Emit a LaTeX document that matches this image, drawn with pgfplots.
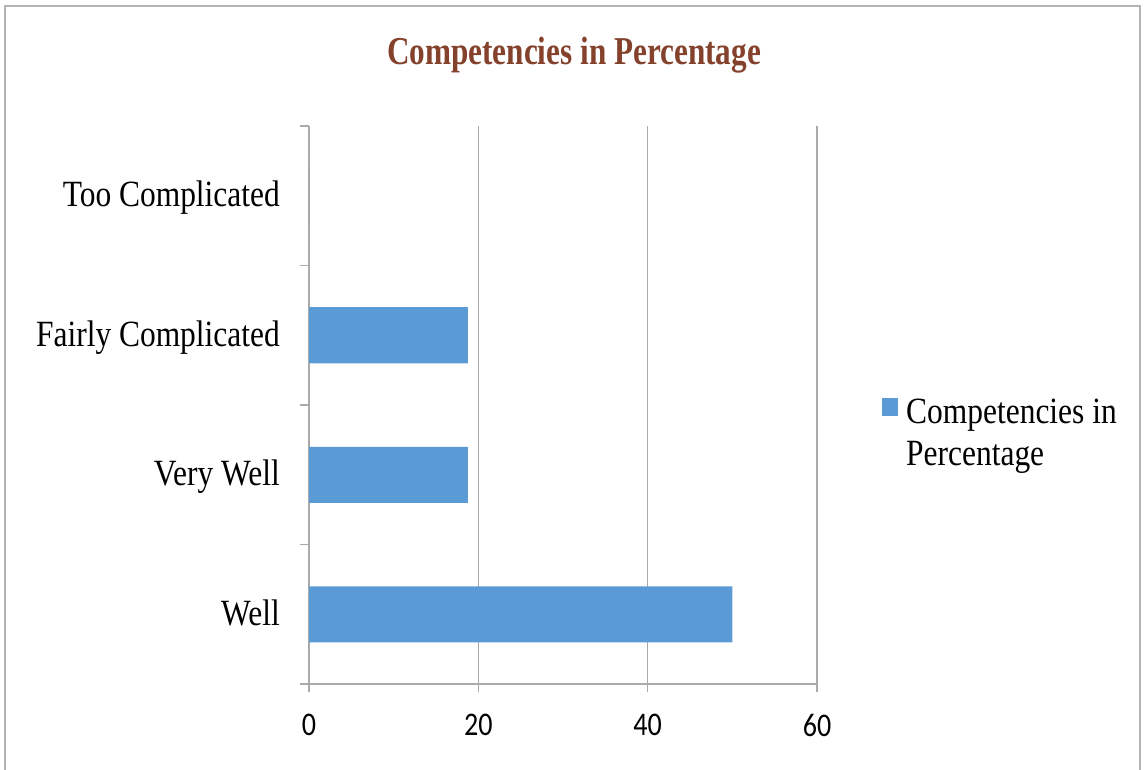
\documentclass[border=0pt]{standalone}
\usepackage{pgfplots}
\pgfplotsset{compat=1.18}
\usepackage{fontspec}
\setmainfont{Liberation Serif}
\newfontfamily\catfont[FakeStretch=0.85]{Liberation Serif}
\newfontfamily\headfont[FakeStretch=0.79]{Liberation Serif}
\newfontfamily\numfont[FakeStretch=0.85]{Carlito}
\definecolor{barblue}{RGB}{91,155,213}
\definecolor{headbrown}{RGB}{132,66,45}
\definecolor{gridgray}{RGB}{170,170,170}
\definecolor{framegray}{RGB}{180,180,180}

\begin{document}
\begin{tikzpicture}[x=1pt,y=1pt]
\useasboundingbox (0,0) rectangle (1146,769);
% outer chart frame
\draw[framegray, line width=2pt] (5,763) rectangle (1140,-20);
% chart title
\node[anchor=base, inner sep=0pt, text=headbrown,
      font=\headfont\bfseries\fontsize{39.5}{44}\selectfont]
      at (574,704) {Competencies in Percentage};
\begin{axis}[
  at={(309pt,85pt)}, anchor=south west,
  scale only axis, width=508pt, height=558pt,
  xbar, bar width=56pt,
  xmin=0, xmax=60, ymin=-0.5, ymax=3.5,
  axis lines=left, axis line style={-, draw=gridgray, line width=1.6pt},
  xtick={0,20,40,60},
  ytick={0,1,2,3},
  yticklabels={Well,Very Well,Fairly Complicated,Too Complicated},
  minor ytick={-0.5,0.5,1.5,2.5,3.5},
  tick align=outside,
  major tick length=8pt, minor tick length=9pt,
  ytick style={draw=none},
  minor y tick style={draw=gridgray, line width=1.4pt},
  xtick style={draw=gridgray, line width=1.4pt},
  xmajorgrids, major x grid style={draw=gridgray, line width=1.3pt},
  /pgf/number format/assume math mode=true,
  xticklabel style={font=\numfont\fontsize{33}{36}\selectfont, inner sep=0pt, anchor=north, yshift=-22pt},
  yticklabel style={font=\catfont\fontsize{37}{42}\selectfont, inner sep=0pt, anchor=base east, xshift=-21pt, yshift=-11pt},
  legend style={at={(1.128,0.5125)}, anchor=north west, draw=none, fill=none, inner sep=0pt,
    font=\catfont\fontsize{37}{42}\selectfont, cells={align=left}, nodes={inner sep=0pt}, column sep=8pt},
  legend image code/.code={\fill[#1] (0pt,17pt) rectangle (16pt,35pt);},
  clip=false,
]
\addplot[fill=barblue, draw=none] coordinates {(50,0) (18.75,1) (18.75,2) (0,3)};
\legend{Competencies in\\Percentage}
\end{axis}
\end{tikzpicture}
\end{document}
